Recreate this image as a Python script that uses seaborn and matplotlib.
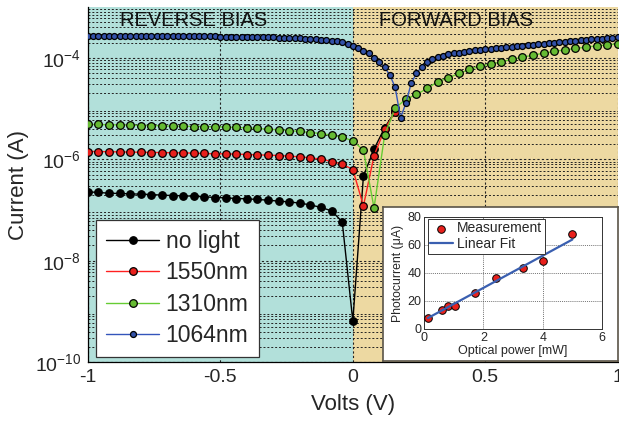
import numpy as np
import pandas as pd
import seaborn as sns
import matplotlib.pyplot as plt

## voltage sweeps (V): 1064nm was swept in 20 mV steps, the others in 40 mV steps
volts_fine = np.linspace(-1, 1, 101)
volts_coarse = np.linspace(-1, 1, 51)

## log10 of the diode current (A)
no_light_log = [-6.642, -6.655, -6.669, -6.675, -6.682, -6.688, -6.695, -6.708, -6.715, -6.721,
                -6.728, -6.741, -6.754, -6.761, -6.774, -6.780, -6.793, -6.807, -6.826, -6.840,
                -6.866, -6.899, -6.951, -7.017, -7.234, -9.193,
                -6.330, -5.800, -5.380, -5.050]

nm1550_log = [-5.847, -5.847, -5.853, -5.853, -5.860, -5.860, -5.867, -5.867, -5.873, -5.873,
              -5.880, -5.886, -5.893, -5.893, -5.899, -5.906, -5.913, -5.919, -5.926, -5.939,
              -5.952, -5.972, -5.998, -6.044, -6.097, -6.202,
              -6.920, -5.930, -5.410, -5.060]

nm1310_log = [-5.314, -5.314, -5.321, -5.321, -5.327, -5.334, -5.334, -5.341, -5.347, -5.347,
              -5.354, -5.354, -5.360, -5.367, -5.373, -5.380, -5.393, -5.406, -5.420, -5.433,
              -5.452, -5.472, -5.492, -5.525, -5.564, -5.636,
              -5.821, -6.959, -5.525, -4.992, -4.815, -4.722, -4.604, -4.473, -4.394, -4.308,
              -4.229, -4.165, -4.120, -4.079, -4.032, -3.986, -3.947, -3.907, -3.874, -3.842,
              -3.815, -3.789, -3.763, -3.744, -3.724]

nm1064_log = [-3.563, -3.563, -3.564, -3.564, -3.565, -3.565, -3.566, -3.566, -3.567, -3.567,
              -3.568, -3.568, -3.569, -3.569, -3.570, -3.570, -3.571, -3.572, -3.572, -3.573,
              -3.574, -3.575, -3.576, -3.577, -3.578, -3.579, -3.580, -3.581, -3.583, -3.584,
              -3.586, -3.588, -3.590, -3.592, -3.594, -3.597, -3.600, -3.603, -3.607, -3.611,
              -3.616, -3.621, -3.627, -3.634, -3.642, -3.651, -3.662, -3.676, -3.694, -3.720,
              -3.769,
              -3.815, -3.862, -3.913, -4.000, -4.079, -4.189, -4.341, -4.584, -5.183, -4.899,
              -4.505, -4.308, -4.178, -4.091, -4.032, -3.992, -3.961, -3.933, -3.913, -3.901,
              -3.882, -3.868, -3.854, -3.842, -3.832, -3.822, -3.812, -3.802, -3.792, -3.782,
              -3.772, -3.762, -3.752, -3.742, -3.732, -3.722, -3.712, -3.702, -3.692, -3.682,
              -3.672, -3.663, -3.654, -3.645, -3.636, -3.627, -3.618, -3.609, -3.600, -3.590]

## inset: photocurrent vs optical power
power_mw = [0.13, 0.62, 0.81, 1.03, 1.73, 2.42, 3.34, 4.01, 5.0]
photocurrent_ua = [7.8, 13.7, 16.6, 16.1, 25.6, 36.7, 43.5, 48.8, 67.5]
fit_power = [0.13, 5.0]
fit_ua = [7.8, 63.9]

sns.set_theme(style='white')
plt.rcParams['font.family'] = ['Liberation Sans', 'DejaVu Sans']
plt.rcParams['mathtext.fontset'] = 'custom'
plt.rcParams['mathtext.rm'] = 'Liberation Sans'
plt.rcParams['mathtext.default'] = 'regular'

fig = plt.figure(figsize=(6.19, 4.22), dpi=100)
ax = fig.add_axes([0.142, 0.142, 0.856, 0.841])

ax.axvspan(-1, 0, color='#b2e0da', zorder=0, lw=0)
ax.axvspan(0, 1, color='#edd9a2', zorder=0, lw=0)

series = [
    ('no light', volts_coarse[:len(no_light_log)], no_light_log, 'black', 'black', 5.4),
    ('1550nm', volts_coarse[:len(nm1550_log)], nm1550_log, '#ff2020', '#e8201c', 5.5),
    ('1310nm', volts_coarse, nm1310_log, '#66cc33', '#66bb33', 5.5),
    ('1064nm', volts_fine, nm1064_log, '#3355bb', '#3352a8', 4.3),
]
for name, v, lg, lc, fc, ms in series:
    df = pd.DataFrame({'volts': v, 'current': 10 ** np.array(lg)})
    sns.lineplot(data=df, x='volts', y='current', ax=ax, color=lc, lw=1.0,
                 marker='o', markersize=ms, markerfacecolor=fc,
                 markeredgecolor='black', markeredgewidth=0.9,
                 sort=False, estimator=None, label=name, zorder=3)

ax.set_yscale('log')
ax.set_xlim(-1, 1)
ax.set_ylim(1e-10, 1e-3)
ax.set_xticks([-1, -0.5, 0, 0.5, 1])
ax.set_xticklabels(['-1', '-0.5', '0', '0.5', '1'], fontsize=14)
ax.set_yticks([1e-10, 1e-8, 1e-6, 1e-4])
ax.set_yticklabels([r'$10^{-10}$', r'$10^{-8}$', r'$10^{-6}$', r'$10^{-4}$'], fontsize=14)
ax.tick_params(axis='both', which='both', direction='in', length=4, color='black', pad=5)
ax.tick_params(axis='y', which='minor', length=0)

ax.set_axisbelow(True)
ax.grid(True, which='major', axis='both', color='#222222', linestyle=(0, (2, 2)), lw=0.8)
ax.grid(True, which='minor', axis='y', color='#222222', linestyle=(0, (2, 2)), lw=0.7)

for side in ['top', 'right']:
    ax.spines[side].set_visible(False)
for side in ['left', 'bottom']:
    ax.spines[side].set_color('black')
    ax.spines[side].set_linewidth(0.9)

ax.set_xlabel('Volts (V)', fontsize=16, labelpad=6)
ax.set_ylabel('Current (A)', fontsize=16, labelpad=4)

ax.text(-0.6, 0.963, 'REVERSE BIAS', transform=ax.get_xaxis_transform(),
        ha='center', va='center', fontsize=14.5, color='#111111')
ax.text(0.39, 0.963, 'FORWARD BIAS', transform=ax.get_xaxis_transform(),
        ha='center', va='center', fontsize=14.5, color='#111111')

leg = ax.legend(loc='lower left', bbox_to_anchor=(0.015, 0.014), borderaxespad=0,
                fontsize=16.5, frameon=True, fancybox=False, framealpha=1,
                edgecolor='#333333', handlelength=2.3, handletextpad=0.3,
                labelspacing=0.36, borderpad=0.45)
leg.get_frame().set_linewidth(0.9)
leg.set_zorder(5)

## inset panel
panel = fig.add_axes([0.619, 0.1445, 0.379, 0.365])
panel.set_facecolor('white')
panel.set_xticks([])
panel.set_yticks([])
for s in panel.spines.values():
    s.set_color('#5a5448')
    s.set_linewidth(1.2)

ins = fig.add_axes([0.685, 0.2204, 0.2876, 0.2654])
ins.set_facecolor('white')
inset_df = pd.DataFrame({'power': power_mw, 'current': photocurrent_ua})
fit_df = pd.DataFrame({'power': fit_power, 'current': fit_ua})
sns.scatterplot(data=inset_df, x='power', y='current', ax=ins, color='#e8201c',
                edgecolor='black', linewidth=0.7, s=30, label='Measurement', zorder=3)
sns.lineplot(data=fit_df, x='power', y='current', ax=ins, color='#3a5fb0', lw=1.6,
             label='Linear Fit', zorder=4)
ins.set_xlim(0, 6)
ins.set_ylim(0, 80)
ins.set_xticks([0, 2, 4, 6])
ins.set_yticks([0, 20, 40, 60, 80])
ins.tick_params(axis='both', labelsize=9, direction='in', length=3, pad=2, color='black')
ins.grid(True, color='#444444', linestyle=(0, (1.5, 1.5)), lw=0.5)
for s in ins.spines.values():
    s.set_color('#333333')
    s.set_linewidth(0.7)
ins.set_xlabel('Optical power [mW]', fontsize=9, labelpad=1)
ins.set_ylabel('Photocurrent (μA)', fontsize=8.8, labelpad=2)
ileg = ins.legend(loc='upper left', bbox_to_anchor=(0.02, 0.985), borderaxespad=0,
                  fontsize=10, frameon=True, fancybox=False, framealpha=1,
                  edgecolor='#333333', handlelength=1.6, handletextpad=0.3,
                  labelspacing=0.1, borderpad=0.2)
ileg.get_frame().set_linewidth(0.7)

fig.savefig('out.png', dpi=100)
